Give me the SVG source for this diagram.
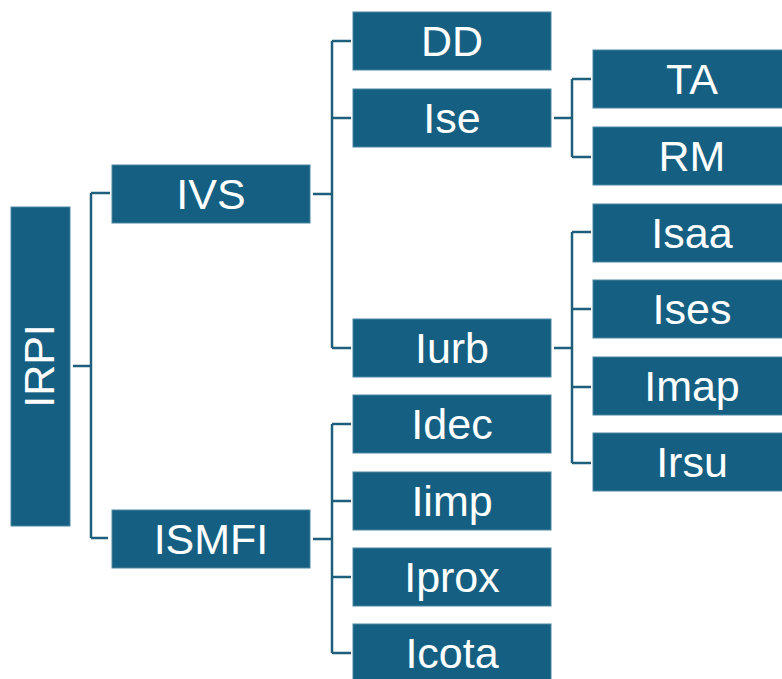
<svg xmlns="http://www.w3.org/2000/svg" width="782" height="679" viewBox="0 0 782 679">
<style>
.box{fill:#156082;stroke:#4a86a3;stroke-width:1}
.t{fill:#ffffff;font-family:"Liberation Sans",Arial,sans-serif;font-size:43px;text-anchor:middle}
.c{fill:none;stroke:#1f5f7e;stroke-width:2.5}
</style>
<rect width="782" height="679" fill="#ffffff"/>
<g id="connectors">
<path class="c" d="M73 366H91M91 193V538M91 193H110M91 538H108"/>
<path class="c" d="M313 194H332M332 41V348M332 41H351M332 118H351M332 348H351"/>
<path class="c" d="M313 539H332M332 424V653M332 424H351M332 501H351M332 577H351M332 653H351"/>
<path class="c" d="M554 118H572M572 79V157M572 79H591M572 157H591"/>
<path class="c" d="M554 348H572M572 232V463M572 232H591M572 309H591M572 387H591M572 463H591"/>
</g>
<g id="IRPI"><rect class="box" x="11" y="207" width="59" height="319"/><text class="t" transform="translate(54 366) rotate(-90)" x="0" y="0">IRPI</text></g>
<g id="IVS"><rect class="box" x="112" y="165" width="198" height="58"/><text class="t" x="211" y="209">IVS</text></g>
<g id="ISMFI"><rect class="box" x="112" y="510" width="198" height="58"/><text class="t" x="211" y="554">ISMFI</text></g>
<g id="DD"><rect class="box" x="353" y="12" width="198" height="58"/><text class="t" x="452" y="56">DD</text></g>
<g id="Ise"><rect class="box" x="353" y="89" width="198" height="58"/><text class="t" x="452" y="133">Ise</text></g>
<g id="Iurb"><rect class="box" x="353" y="319" width="198" height="58"/><text class="t" x="452" y="363">Iurb</text></g>
<g id="Idec"><rect class="box" x="353" y="395" width="198" height="58"/><text class="t" x="452" y="439">Idec</text></g>
<g id="Iimp"><rect class="box" x="353" y="472" width="198" height="58"/><text class="t" x="452" y="516">Iimp</text></g>
<g id="Iprox"><rect class="box" x="353" y="548" width="198" height="58"/><text class="t" x="452" y="592">Iprox</text></g>
<g id="Icota"><rect class="box" x="353" y="624" width="198" height="58"/><text class="t" x="452" y="668">Icota</text></g>
<g id="TA"><rect class="box" x="593" y="50" width="198" height="58"/><text class="t" x="692" y="94">TA</text></g>
<g id="RM"><rect class="box" x="593" y="127" width="198" height="58"/><text class="t" x="692" y="171">RM</text></g>
<g id="Isaa"><rect class="box" x="593" y="204" width="198" height="58"/><text class="t" x="692" y="248">Isaa</text></g>
<g id="Ises"><rect class="box" x="593" y="280" width="198" height="58"/><text class="t" x="692" y="324">Ises</text></g>
<g id="Imap"><rect class="box" x="593" y="357" width="198" height="58"/><text class="t" x="692" y="401">Imap</text></g>
<g id="Irsu"><rect class="box" x="593" y="433" width="198" height="58"/><text class="t" x="692" y="477">Irsu</text></g>
</svg>
